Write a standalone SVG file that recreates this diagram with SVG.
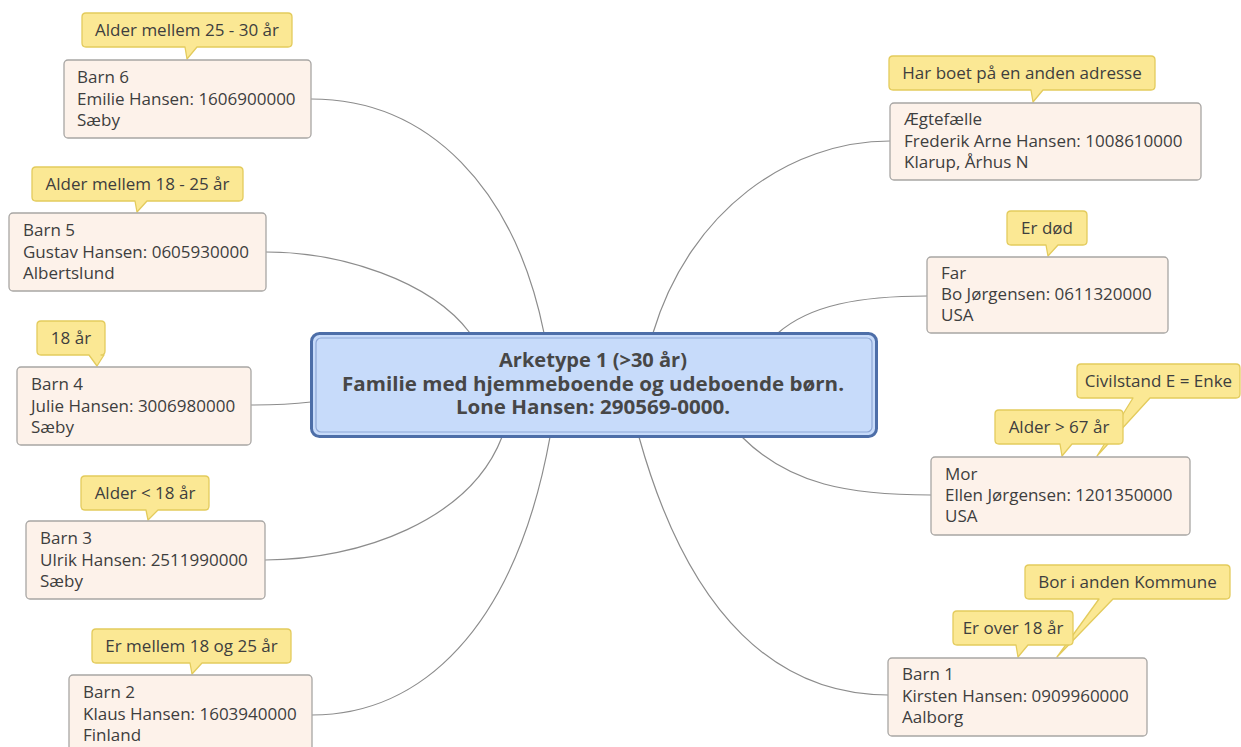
<svg xmlns="http://www.w3.org/2000/svg" width="1241" height="747" viewBox="0 0 1241 747">
<style>
.bg{fill:#ffffff}
.node rect{fill:#fdf2ea;stroke:#a8a6a4;stroke-width:1.3}
.node text{font-family:"Open Sans","Liberation Sans",sans-serif;font-size:17px;fill:#3e3e3e}
.call{fill:#fbe894;stroke:#e3cb5c;stroke-width:1.3;stroke-linejoin:round}
.ct{font-family:"Open Sans","Liberation Sans",sans-serif;font-size:17px;fill:#333333;text-anchor:middle}
.conn path{fill:none;stroke:#8c8c8c;stroke-width:1.2}
.center text{font-family:"Open Sans","Liberation Sans",sans-serif;font-size:19px;font-weight:bold;fill:#474747;text-anchor:middle}
</style>
<rect class="bg" x="0" y="0" width="1241" height="747"/>
<g id="connectors" class="conn">
<path d="M544,333 C515,190 430,99 311,99"/>
<path d="M470,333 C430,280 340,252 266,252"/>
<path d="M311,402 Q285,405 251,405"/>
<path d="M502,437 C470,520 360,560 265,560"/>
<path d="M550,437 C515,630 420,715 312,715"/>
<path d="M653,333 C690,210 790,141 890,141"/>
<path d="M778,333 C810,305 860,296 927,296"/>
<path d="M742,437 C790,485 850,495 931,495"/>
<path d="M639,437 C690,620 780,695 888,695"/>
</g>
<g id="center" class="center">
<rect x="311.5" y="333.5" width="565" height="103" rx="8" fill="#c7dbfa" stroke="#4d6ea8" stroke-width="3"/>
<rect x="316" y="338" width="556" height="94" rx="5" fill="none" stroke="#8ea7d6" stroke-width="1.2"/>
<text x="593" y="367" textLength="188" lengthAdjust="spacingAndGlyphs">Arketype 1 (&gt;30 år)</text>
<text x="593" y="390.5" textLength="502" lengthAdjust="spacingAndGlyphs">Familie med hjemmeboende og udeboende børn.</text>
<text x="593" y="414" textLength="274" lengthAdjust="spacingAndGlyphs">Lone Hansen: 290569-0000.</text>
</g>
<g id="barn6" class="node">
<path class="call" d="M86,13 H288 Q292,13 292,17 V43 Q292,47 288,47 H197 L187,59 L185,47 H86 Q82,47 82,43 V17 Q82,13 86,13 Z"/>
<text class="ct" x="187" y="36">Alder mellem 25 - 30 år</text>
<rect x="64" y="60" width="247" height="78" rx="4"/>
<text x="77" y="83">Barn 6</text>
<text x="77" y="104.5">Emilie Hansen: 1606900000</text>
<text x="77" y="125.5">Sæby</text>
</g>
<g id="barn5" class="node">
<path class="call" d="M36,167 H239 Q243,167 243,171 V197 Q243,201 239,201 H147 L137,212 L135,201 H36 Q32,201 32,197 V171 Q32,167 36,167 Z"/>
<text class="ct" x="137.5" y="190">Alder mellem 18 - 25 år</text>
<rect x="9" y="213" width="257" height="78" rx="4"/>
<text x="23" y="236">Barn 5</text>
<text x="23" y="257.5">Gustav Hansen: 0605930000</text>
<text x="23" y="278.5">Albertslund</text>
</g>
<g id="barn4" class="node">
<path class="call" d="M41,321 H101 Q105,321 105,325 V351 Q105,355 101,355 H104 L97,366 L89,355 H41 Q37,355 37,351 V325 Q37,321 41,321 Z"/>
<text class="ct" x="71" y="344">18 år</text>
<rect x="17" y="367" width="234" height="78" rx="4"/>
<text x="31" y="390">Barn 4</text>
<text x="31" y="411.5">Julie Hansen: 3006980000</text>
<text x="31" y="432.5">Sæby</text>
</g>
<g id="barn3" class="node">
<path class="call" d="M85,476 H205 Q209,476 209,480 V506 Q209,510 205,510 H158 L148,520 L146,510 H85 Q81,510 81,506 V480 Q81,476 85,476 Z"/>
<text class="ct" x="145" y="499">Alder &lt; 18 år</text>
<rect x="26" y="521" width="239" height="78" rx="4"/>
<text x="40" y="544">Barn 3</text>
<text x="40" y="565.5">Ulrik Hansen: 2511990000</text>
<text x="40" y="586.5">Sæby</text>
</g>
<g id="barn2" class="node">
<path class="call" d="M96,629 H287 Q291,629 291,633 V659 Q291,663 287,663 H202 L192,674 L190,663 H96 Q92,663 92,659 V633 Q92,629 96,629 Z"/>
<text class="ct" x="191.5" y="652">Er mellem 18 og 25 år</text>
<rect x="69" y="675" width="243" height="80" rx="4"/>
<text x="83" y="698">Barn 2</text>
<text x="83" y="719.5">Klaus Hansen: 1603940000</text>
<text x="83" y="740.5">Finland</text>
</g>
<g id="aegtefaelle" class="node">
<path class="call" d="M893,56 H1151 Q1155,56 1155,60 V86 Q1155,90 1151,90 H1043 L1033,102 L1031,90 H893 Q889,90 889,86 V60 Q889,56 893,56 Z"/>
<text class="ct" x="1022" y="79">Har boet på en anden adresse</text>
<rect x="890" y="103" width="311" height="77" rx="4"/>
<text x="904" y="125">Ægtefælle</text>
<text x="904" y="146.5">Frederik Arne Hansen: 1008610000</text>
<text x="904" y="167.5">Klarup, Århus N</text>
</g>
<g id="far" class="node">
<path class="call" d="M1011,211 H1083 Q1087,211 1087,215 V241 Q1087,245 1083,245 H1058 L1048,256 L1046,245 H1011 Q1007,245 1007,241 V215 Q1007,211 1011,211 Z"/>
<text class="ct" x="1047" y="234">Er død</text>
<rect x="927" y="257" width="241" height="76" rx="4"/>
<text x="941" y="278.5">Far</text>
<text x="941" y="300">Bo Jørgensen: 0611320000</text>
<text x="941" y="321">USA</text>
</g>
<g id="mor" class="node">
<path class="call" d="M1081,364 H1236 Q1240,364 1240,368 V394 Q1240,398 1236,398 H1150 L1097,456 L1133,398 H1081 Q1077,398 1077,394 V368 Q1077,364 1081,364 Z"/>
<text class="ct" x="1158.5" y="387">Civilstand E = Enke</text>
<path class="call" d="M999,410 H1119 Q1123,410 1123,414 V440 Q1123,444 1119,444 H1072 L1062,456 L1060,444 H999 Q995,444 995,440 V414 Q995,410 999,410 Z"/>
<text class="ct" x="1059" y="433">Alder &gt; 67 år</text>
<rect x="931" y="457" width="259" height="78" rx="4"/>
<text x="945" y="479.5">Mor</text>
<text x="945" y="501">Ellen Jørgensen: 1201350000</text>
<text x="945" y="522">USA</text>
</g>
<g id="barn1" class="node">
<path class="call" d="M1029,565 H1226 Q1230,565 1230,569 V595 Q1230,599 1226,599 H1113 L1057,657 L1099,599 H1029 Q1025,599 1025,595 V569 Q1025,565 1029,565 Z"/>
<text class="ct" x="1127.5" y="588">Bor i anden Kommune</text>
<path class="call" d="M957,611 H1069 Q1073,611 1073,615 V641 Q1073,645 1069,645 H1028 L1018,657 L1016,645 H957 Q953,645 953,641 V615 Q953,611 957,611 Z"/>
<text class="ct" x="1013" y="634">Er over 18 år</text>
<rect x="888" y="658" width="259" height="78" rx="4"/>
<text x="902" y="680">Barn 1</text>
<text x="902" y="701.5">Kirsten Hansen: 0909960000</text>
<text x="902" y="722.5">Aalborg</text>
</g>
</svg>
